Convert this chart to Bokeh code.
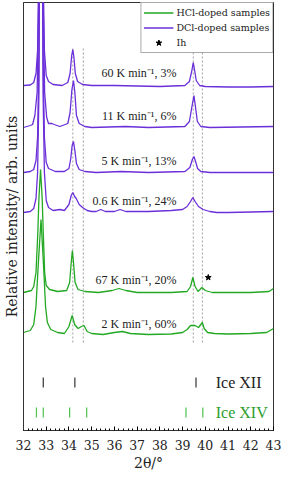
from bokeh.plotting import figure
from bokeh.models import Legend, LegendItem, SingleIntervalTicker, FixedTicker, Range1d
from bokeh.core.properties import value
from bokeh.embed import file_html
from bokeh.resources import INLINE

# ---------------- data (2theta in degrees, intensity in arb. units) ----------------
# DCl-doped samples
d60_x = [32.0, 32.3, 32.45, 32.55, 32.62, 32.68, 32.72, 32.77, 32.82, 32.86, 32.92, 33.0, 33.1, 33.3, 33.7,
         33.95, 34.05, 34.12, 34.17, 34.22, 34.28, 34.38, 34.6, 35.0, 36.0, 37.0, 38.0, 39.1, 39.3, 39.4,
         39.47, 39.53, 39.6, 39.75, 40.0, 41.0, 42.0, 43.0]
d60_y = [0, 0.5, 3, 12, 35, 120, 350, 700, 350, 120, 35, 10, 4, 1, 0,
         3, 12, 30, 36, 28, 12, 4, 1, 0, 0, -0.5, -1, 0, 4, 14,
         23, 15, 5, 0, -1, -1.5, -1.5, -1]

d11_x = [32.0, 32.3, 32.4, 32.5, 32.6, 32.66, 32.71, 32.77, 32.83, 32.87, 32.93, 33.02, 33.1, 33.25, 33.35,
         33.6, 33.95, 34.05, 34.13, 34.2, 34.26, 34.33, 34.45, 34.7, 35.0, 36.5, 37.5, 39.1, 39.3, 39.42,
         39.5, 39.57, 39.65, 39.8, 40.2, 43.0]
d11_y = [0, 2, 3, 12, 35, 120, 350, 700, 350, 120, 35, 10, 4, 4, 3,
         1, 4, 15, 38, 47, 35, 12, 4, 1, 0, 1, 0, 1, 6, 22,
         32, 20, 6, 1, 0, 1]

d5_x = [32.0, 32.3, 32.45, 32.55, 32.62, 32.68, 32.72, 32.77, 32.82, 32.86, 32.92, 33.0, 33.1, 33.4, 33.8,
        34.0, 34.08, 34.14, 34.2, 34.26, 34.33, 34.45, 34.7, 35.2, 36.3, 37.5, 39.1, 39.32, 39.43, 39.5,
        39.57, 39.66, 39.8, 40.2, 43.0]
d5_y = [0, 1, 3, 12, 35, 120, 350, 700, 350, 120, 35, 10, 4, 1, 1,
        4, 14, 27, 31, 22, 9, 3, 1, 0, 1, 0, 1, 5, 13, 16,
        11, 4, 1, 0, 0]

d06_x = [32.0, 32.3, 32.45, 32.55, 32.62, 32.68, 32.72, 32.77, 32.82, 32.86, 32.92, 33.0, 33.1, 33.3, 33.6,
         33.8, 34.0, 34.1, 34.17, 34.25, 34.32, 34.45, 34.6, 34.8, 35.0, 35.2, 35.4, 35.6, 36.0, 36.25,
         36.5, 37.5, 38.5, 39.0, 39.2, 39.35, 39.45, 39.55, 39.7, 39.9, 40.2, 40.5, 41.0, 42.0, 43.0]
d06_y = [0, 1, 4, 14, 40, 120, 350, 700, 350, 120, 40, 12, 5, 2, 3,
         2, 8, 17, 20, 16, 14, 8, 5, 2, 1, 1, 3, 1, 1, 3,
         1, 1, 2, 3, 6, 11, 15, 11, 6, 3, 1, 0, 0, 0.5, 1]

# HCl-doped samples
h67_x = [32.0, 32.35, 32.45, 32.55, 32.63, 32.68, 32.75, 32.82, 32.87, 32.93, 33.0, 33.15, 33.5, 33.9, 34.03,
         34.1, 34.15, 34.2, 34.27, 34.4, 34.7, 35.3, 35.9, 36.2, 36.5, 37.0, 38.5, 39.2, 39.35, 39.45,
         39.55, 39.68, 39.85, 40.0, 40.3, 42.0, 42.8, 43.0]
h67_y = [0, 2, 6, 20, 60, 95, 123, 95, 60, 20, 7, 3, 1, 2, 10,
         30, 42, 30, 10, 3, 1, 0, 2, 4, 2, 0, 0, 1, 6, 15,
         6, 1, 5, 2, 0, 0, 1, 4]

h2_x = [32.0, 32.3, 32.45, 32.55, 32.65, 32.77, 32.88, 32.97, 33.05, 33.2, 33.5, 33.8, 34.0, 34.14, 34.25,
        34.4, 34.55, 34.66, 34.8, 35.0, 35.5, 36.0, 36.35, 36.7, 37.5, 38.5, 39.0, 39.2, 39.35, 39.55,
        39.7, 39.87, 39.95, 40.1, 40.4, 41.0, 42.0, 42.7, 43.0]
h2_y = [2, 4, 10, 28, 70, 115, 70, 28, 12, 5, 2, 1, 8, 19, 10,
        6, 8, 9, 3, 1, 0, 2, 3, 1, 0, 0.5, 2, 5, 9, 9,
        7, 12, 6, 2, 1, 0.5, 1, 2, 6]

# stacking offsets of each pattern
offset_d60, offset_d11, offset_d5, offset_d06 = 345, 303, 258, 218
offset_h67, offset_h2 = 138, 96

# curve annotations
label_texts = ["60 K min\u207b\u00b9, 3%", "11 K min\u207b\u00b9, 6%", "5 K min\u207b\u00b9, 13%",
               "0.6 K min\u207b\u00b9, 24%", "67 K min\u207b\u00b9, 20%", "2 K min\u207b\u00b9, 60%"]
label_y = [358, 315, 270, 230, 151, 107]
label_x = [38.73] * 6

# reference lines and reflection positions
guide_x = [34.17, 34.63, 39.47, 39.87]
ice12_pos = [32.87, 34.26, 39.59]
ice14_pos = [32.57, 32.87, 34.03, 34.78, 39.15, 39.89]
ih_pos_x, ih_pos_y = [40.13], [153]

PURPLE = "#6b2fd9"
GREEN = "#22a822"
FONT = "Liberation Serif"
AXFONT = "DejaVu Serif"

p = figure(width=282, height=476, output_backend="svg", toolbar_location=None,
           x_range=Range1d(32, 43), y_range=Range1d(0, 428),
           min_border_left=23, min_border_right=9, min_border_top=2, min_border_bottom=46)
p.background_fill_color = "white"
p.outline_line_color = "#333333"
p.outline_line_width = 1
p.xgrid.visible = False
p.ygrid.visible = False

# guide lines
for gx in guide_x:
    p.segment(x0=[gx], y0=[88], x1=[gx], y1=[382], line_color="#a0a0a0", line_width=1, line_dash="2 2")

def shift(ys, off):
    return [v + off for v in ys]

r_d60 = p.line(d60_x, shift(d60_y, offset_d60), line_color=PURPLE, line_width=1.3)
p.line(d11_x, shift(d11_y, offset_d11), line_color=PURPLE, line_width=1.3)
p.line(d5_x, shift(d5_y, offset_d5), line_color=PURPLE, line_width=1.3)
p.line(d06_x, shift(d06_y, offset_d06), line_color=PURPLE, line_width=1.3)
r_h67 = p.line(h67_x, shift(h67_y, offset_h67), line_color=GREEN, line_width=1.3)
p.line(h2_x, shift(h2_y, offset_h2), line_color=GREEN, line_width=1.3)

r_ih = p.scatter(ih_pos_x, ih_pos_y, marker="star", size=6, fill_color="black", line_color="black")

p.text(x=label_x, y=label_y, text=label_texts, text_align="right", text_baseline="middle",
       text_font=value(FONT), text_font_size="12px", text_color="#222222")

# reflection ticks
p.segment(x0=ice12_pos, y0=[43] * len(ice12_pos), x1=ice12_pos, y1=[53] * len(ice12_pos),
          line_color="#333333", line_width=1.2)
p.segment(x0=ice14_pos, y0=[13] * len(ice14_pos), x1=ice14_pos, y1=[23] * len(ice14_pos),
          line_color="#4cc24c", line_width=1.2)
p.text(x=[40.46], y=[48], text=["Ice XII"], text_baseline="middle", text_font=value(FONT),
       text_font_size="16px", text_color="#222222")
p.text(x=[40.46], y=[18], text=["Ice XIV"], text_baseline="middle", text_font=value(FONT),
       text_font_size="16px", text_color="#2e9e2e")

# axes
p.xaxis.ticker = SingleIntervalTicker(interval=1, num_minor_ticks=5)
p.xaxis.major_tick_in = 4
p.xaxis.major_tick_out = 0
p.xaxis.minor_tick_in = 2
p.xaxis.minor_tick_out = 0
p.xaxis.axis_label = "2\u03b8/\u00b0"
p.xaxis.axis_label_text_font = AXFONT
p.xaxis.axis_label_text_font_style = "normal"
p.xaxis.axis_label_text_font_size = "14px"
p.xaxis.axis_label_text_color = "#222222"
p.xaxis.axis_label_standoff = 2
p.xaxis.major_label_text_font = AXFONT
p.xaxis.major_label_text_font_size = "12.5px"
p.xaxis.major_label_text_color = "#222222"
p.xaxis.major_label_standoff = 9
p.xaxis.axis_line_color = "#333333"

p.yaxis.ticker = FixedTicker(ticks=[])
p.yaxis.axis_label = "Relative intensity/ arb. units"
p.yaxis.axis_label_text_font = AXFONT
p.yaxis.axis_label_text_font_style = "normal"
p.yaxis.axis_label_text_font_size = "14px"
p.yaxis.axis_label_text_color = "#222222"
p.yaxis.axis_label_standoff = 4
p.yaxis.major_label_standoff = 0
p.yaxis.major_tick_line_color = None
p.yaxis.minor_tick_line_color = None
p.yaxis.major_tick_in = 0
p.yaxis.major_tick_out = 0
p.yaxis.axis_line_color = "#333333"

legend = Legend(items=[
    LegendItem(label="HCl-doped samples", renderers=[r_h67]),
    LegendItem(label="DCl-doped samples", renderers=[r_d60]),
    LegendItem(label="Ih", renderers=[r_ih]),
], location="top_right")
legend.margin = 0
legend.padding = 2
legend.spacing = 0
legend.glyph_width = 30
legend.glyph_height = 15
legend.label_height = 15
legend.label_standoff = 3
legend.label_text_font = AXFONT
legend.label_text_font_size = "9.5px"
legend.label_text_color = "#222222"
legend.border_line_color = "#555555"
legend.border_line_width = 1
legend.background_fill_alpha = 1
p.add_layout(legend)

open("out.html", "w").write(file_html(p, INLINE))
